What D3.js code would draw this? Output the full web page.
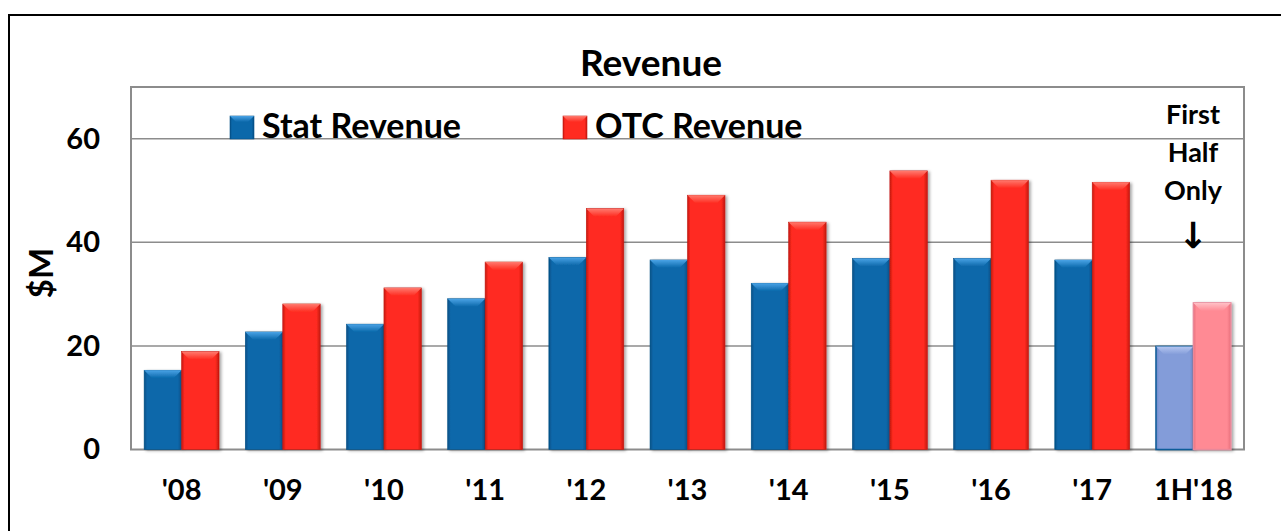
<!DOCTYPE html>
<html>
<head>
<meta charset="utf-8">
<script src="https://cdn.jsdelivr.net/npm/d3@7"></script>
<style>
  body { margin: 0; background: #fff; }
  text { font-family: Lato, "Open Sans", sans-serif; font-weight: bold; fill: #000; }
</style>
</head>
<body>
<div id="container"></div>
<script>
/* DATA */
const categories = ["'08", "'09", "'10", "'11", "'12", "'13", "'14", "'15", "'16", "'17", "1H'18"];
const statRevenue = [15.3, 22.7, 24.2, 29.1, 37.1, 36.6, 32.1, 36.9, 36.9, 36.6, 19.9];
const otcRevenue = [18.9, 28.1, 31.2, 36.2, 46.5, 49.1, 43.9, 53.8, 52.0, 51.6, 28.3];
const yTicks = [0, 20, 40, 60];
const seriesNames = ["Stat Revenue", "OTC Revenue"];
const partialCategory = "1H'18";
const noteLines = ["First", "Half", "Only"];

/* CONSTANTS */
const width = 1281;
const height = 531;
const plot = {left: 131, right: 1244, top: 87, bottom: 449.5};

// colours: edge, main, bevel-top
const palette = {
  stat: {edge: "#064f85", main: "#0b68aa", light: "#4aa3e6"},
  otc: {edge: "#c41810", main: "#ff2b20", light: "#ff7a6e"},
  statFaded: {edge: "#6a83c4", main: "#839cd9", light: "#b5c6f0", stroke: "#0a5c98"},
  otcFaded: {edge: "#e8707c", main: "#ff8a94", light: "#ffc0c6", stroke: "#e8889a"}
};

const data = categories.map((c, i) => ({cat: c, stat: statRevenue[i], otc: otcRevenue[i]}));

const svg = d3.select("#container")
  .append("svg")
    .attr("width", width)
    .attr("height", height);

const defs = svg.append("defs");

defs.append("filter")
    .attr("id", "shadow")
    .attr("x", "-20%").attr("y", "-10%")
    .attr("width", "150%").attr("height", "130%")
  .append("feDropShadow")
    .attr("dx", 2).attr("dy", 1)
    .attr("stdDeviation", 1.5)
    .attr("flood-color", "#000")
    .attr("flood-opacity", 0.35);

// horizontal gradient per colour key
Object.entries(palette).forEach(([key, c]) => {
  const g = defs.append("linearGradient")
    .attr("id", "grad-" + key)
    .attr("x1", "0%").attr("x2", "100%")
    .attr("y1", "0%").attr("y2", "0%");
  g.append("stop").attr("offset", "0%").attr("stop-color", c.edge);
  g.append("stop").attr("offset", "8%").attr("stop-color", c.main);
  g.append("stop").attr("offset", "90%").attr("stop-color", c.main);
  g.append("stop").attr("offset", "100%").attr("stop-color", c.edge);

  const t = defs.append("linearGradient")
    .attr("id", "top-" + key)
    .attr("x1", "0%").attr("x2", "0%")
    .attr("y1", "0%").attr("y2", "100%");
  t.append("stop").attr("offset", "0%").attr("stop-color", c.light);
  t.append("stop").attr("offset", "100%").attr("stop-color", c.main);
});

/* outer frame */
svg.append("rect")
  .attr("x", 9).attr("y", 15)
  .attr("width", 1400).attr("height", 700)
  .attr("fill", "none")
  .attr("stroke", "#000")
  .attr("stroke-width", 2);

/* SCALES */
const xScale = d3.scaleBand()
  .domain(categories)
  .range([plot.left, plot.right])
  .paddingInner(0.26)
  .paddingOuter(0.13);

const xSub = d3.scaleBand()
  .domain(["stat", "otc"])
  .range([0, xScale.bandwidth()]);

const yScale = d3.scaleLinear()
  .domain([0, 70])
  .range([plot.bottom, plot.top]);

/* gridlines */
svg.append("g")
  .selectAll("line")
  .data(yTicks.filter(d => d > 0))
  .join("line")
    .attr("x1", plot.left).attr("x2", plot.right)
    .attr("y1", d => yScale(d)).attr("y2", d => yScale(d))
    .attr("stroke", "#8c8c8c")
    .attr("stroke-width", 1.5);

svg.append("rect")
  .attr("x", plot.left).attr("y", plot.top)
  .attr("width", plot.right - plot.left)
  .attr("height", plot.bottom - plot.top)
  .attr("fill", "none")
  .attr("stroke", "#8c8c8c")
  .attr("stroke-width", 2);

/* AXES */
const yAxis = d3.axisLeft(yScale).tickValues(yTicks).tickSize(0).tickPadding(31);
svg.append("g")
  .attr("transform", `translate(${plot.left},0)`)
  .call(yAxis)
  .call(g => g.select(".domain").remove())
  .selectAll("text")
    .attr("font-size", 29)
    .style("font-family", "Lato, sans-serif");

const xAxis = d3.axisBottom(xScale).tickSize(0).tickPadding(30);
svg.append("g")
  .attr("transform", `translate(0,${plot.bottom})`)
  .call(xAxis)
  .call(g => g.select(".domain").remove())
  .selectAll("text")
    .attr("font-size", 29)
    .style("font-family", "Lato, sans-serif");

/* BARS */
const bevel = 8;
function barKey(d, s) {
  return d.cat === partialCategory ? s + "Faded" : s;
}

const groups = svg.append("g")
  .selectAll("g.group")
  .data(data)
  .join("g")
    .attr("class", "group")
    .attr("transform", d => `translate(${xScale(d.cat)},0)`);

const bars = groups.selectAll("g.bar")
  .data(d => ["stat", "otc"].map(s => ({cat: d.cat, series: s, value: d[s], key: barKey(d, s)})))
  .join("g")
    .attr("class", "bar")
    .attr("filter", "url(#shadow)");

bars.append("rect")
  .attr("x", d => xSub(d.series))
  .attr("y", d => yScale(d.value))
  .attr("width", xSub.bandwidth())
  .attr("height", d => yScale(0) - yScale(d.value))
  .attr("fill", d => `url(#grad-${d.key})`)
  .attr("stroke", d => palette[d.key].stroke || palette[d.key].edge)
  .attr("stroke-width", d => palette[d.key].stroke ? 1.5 : 0.6);

// top bevel
bars.append("path")
  .attr("d", d => {
    const x0 = xSub(d.series), x1 = x0 + xSub.bandwidth(), y0 = yScale(d.value);
    return `M${x0},${y0}L${x1},${y0}L${x1 - bevel},${y0 + bevel}L${x0 + bevel},${y0 + bevel}Z`;
  })
  .attr("fill", d => `url(#top-${d.key})`);

/* TITLE */
svg.append("text")
  .attr("x", 651)
  .attr("y", 76)
  .attr("text-anchor", "middle")
  .attr("font-size", 37)
  .text("Revenue");

/* Y LABEL */
svg.append("text")
  .attr("transform", "translate(53,273) rotate(-90)")
  .attr("text-anchor", "middle")
  .attr("font-size", 33)
  .text("$M");

/* LEGEND */
const legendX = [230, 563];
const legend = svg.append("g")
  .selectAll("g")
  .data(seriesNames)
  .join("g")
    .attr("transform", (d, i) => `translate(${legendX[i]},116)`);

legend.append("rect")
  .attr("width", 24).attr("height", 23)
  .attr("fill", (d, i) => `url(#grad-${i ? "otc" : "stat"})`)
  .attr("stroke", (d, i) => palette[i ? "otc" : "stat"].edge)
  .attr("stroke-width", 0.6);

legend.append("path")
  .attr("d", "M0,0L24,0L18,6L6,6Z")
  .attr("fill", (d, i) => `url(#top-${i ? "otc" : "stat"})`);

legend.append("text")
  .attr("x", 32)
  .attr("y", 22)
  .attr("font-size", 34)
  .text(d => d);

/* NOTE */
const noteX = 1193;
svg.append("g")
  .selectAll("text")
  .data(noteLines)
  .join("text")
    .attr("x", noteX)
    .attr("y", (d, i) => 124 + i * 38)
    .attr("text-anchor", "middle")
    .attr("font-size", 27)
    .text(d => d);

svg.append("text")
  .attr("x", noteX)
  .attr("y", 248)
  .attr("text-anchor", "middle")
  .attr("font-size", 36)
  .style("font-family", "DejaVu Sans, sans-serif")
  .text("↓");
</script>
</body>
</html>
